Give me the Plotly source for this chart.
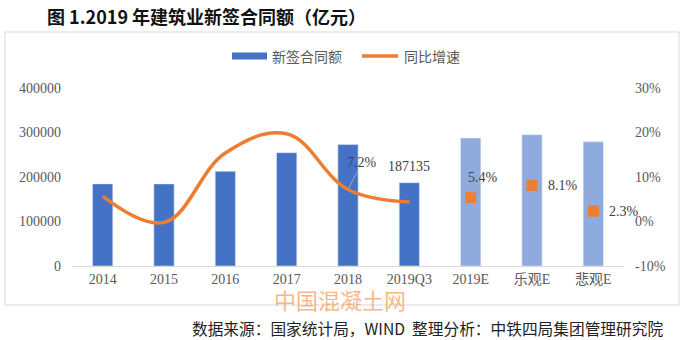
import plotly.graph_objects as go

categories = ["2014", "2015", "2016", "2017", "2018", "2019Q3", "2019E", "乐观E", "悲观E"]
contract_values = [184500, 184400, 212768, 254666, 272854, 187135, 287588, 294955, 279130]
bar_colors = ["#4472C4"] * 6 + ["#8FAADC"] * 3
growth_actual = [0.057, -0.002, 0.154, 0.197, 0.072, 0.044, None, None, None]
growth_forecast = [None, None, None, None, None, None, 0.054, 0.081, 0.023]
left_ticks = [0, 100000, 200000, 300000, 400000]
right_ticks = [-0.1, 0.0, 0.1, 0.2, 0.3]

W, H = 688, 340
ML, MR, MT, MB = 72, 64, 88, 74
PW, PH = W - ML - MR, H - MT - MB


def px(x):
    return (x - ML) / PW


def py(y):
    return 1 - (y - MT) / PH


def ci(name):
    return categories.index(name)


SERIF = "Liberation Serif, Noto Sans CJK SC"
CJK = "Noto Sans CJK SC"
ORANGE = "#ED7D31"
GRAY = "#595959"

fig = go.Figure()
fig.add_trace(go.Bar(x=categories, y=contract_values, marker_color=bar_colors,
                     width=0.33, showlegend=False, hoverinfo="skip"))
fig.add_trace(go.Scatter(x=categories, y=growth_actual, yaxis="y2", mode="lines",
                         line=dict(color=ORANGE, width=3.5, shape="spline", smoothing=1.1),
                         connectgaps=False, showlegend=False))
fig.add_trace(go.Scatter(x=categories, y=growth_forecast, yaxis="y2", mode="markers",
                         marker=dict(color=ORANGE, symbol="square", size=11),
                         showlegend=False))

annotations = []
# data labels
lab_font = dict(family=SERIF, size=14, color="#404040")
annotations.append(dict(x=ci("2018"), y=growth_actual[4], xref="x", yref="y2",
                        text="7.2%", showarrow=True, arrowhead=0, arrowwidth=1,
                        arrowcolor="#A6A6A6", ax=14, ay=-27, font=lab_font))
annotations.append(dict(x=ci("2019Q3"), y=contract_values[5], xref="x", yref="y",
                        text="187135", showarrow=False, yshift=16, font=lab_font))
annotations.append(dict(x=ci("2019E"), y=growth_forecast[6], xref="x", yref="y2",
                        text="5.4%", showarrow=True, arrowhead=0, arrowwidth=1,
                        arrowcolor="#A6A6A6", ax=12, ay=-20, font=lab_font))
annotations.append(dict(x=ci("乐观E"), y=growth_forecast[7], xref="x", yref="y2",
                        text="8.1%", showarrow=False, xshift=31, font=lab_font))
annotations.append(dict(x=ci("悲观E"), y=growth_forecast[8], xref="x", yref="y2",
                        text="2.3%", showarrow=False, xshift=31, font=lab_font))

# legend
annotations.append(dict(x=px(270), y=py(56), xref="paper", yref="paper", xanchor="left",
                        yanchor="middle", text="新签合同额", showarrow=False,
                        font=dict(family=CJK, size=14, color=GRAY)))
annotations.append(dict(x=px(402), y=py(56), xref="paper", yref="paper", xanchor="left",
                        yanchor="middle", text="同比增速", showarrow=False,
                        font=dict(family=CJK, size=14, color=GRAY)))
# title
annotations.append(dict(x=px(45), y=py(16), xref="paper", yref="paper", xanchor="left",
                        yanchor="middle", text="<b>图 1.2019 年建筑业新签合同额（亿元）</b>",
                        showarrow=False, font=dict(family=CJK, size=18, color="#111111")))
# watermark
annotations.append(dict(x=px(340), y=py(299), xref="paper", yref="paper", xanchor="center",
                        yanchor="middle", text="中国混凝土网", showarrow=False,
                        font=dict(family=CJK, size=22, color="rgba(243,160,90,0.75)")))
# footer
annotations.append(dict(x=px(665), y=py(328), xref="paper", yref="paper", xanchor="right",
                        yanchor="middle", text="数据来源：国家统计局，WIND  整理分析：中铁四局集团管理研究院",
                        showarrow=False, font=dict(family=CJK, size=15.7, color="#222222")))

shapes = [
    dict(type="rect", xref="paper", yref="paper", x0=px(5), x1=px(679), y0=py(305), y1=py(32),
         line=dict(color="#D9D9D9", width=1), layer="below"),
    dict(type="rect", xref="paper", yref="paper", x0=px(232), x1=px(267), y0=py(59.5), y1=py(52.5),
         fillcolor="#4472C4", line=dict(width=0)),
    dict(type="line", xref="paper", yref="paper", x0=px(362), x1=px(398), y0=py(56), y1=py(56),
         line=dict(color=ORANGE, width=3.5)),
]

tick_font = dict(family=SERIF, size=14, color=GRAY)
fig.update_layout(
    width=W, height=H, margin=dict(l=ML, r=MR, t=MT, b=MB, autoexpand=False),
    paper_bgcolor="white", plot_bgcolor="white",
    xaxis=dict(type="category", showline=True, linecolor="#D9D9D9", linewidth=1,
               showgrid=False, ticks="", tickfont=tick_font, range=[-0.5, 8.5]),
    yaxis=dict(range=[0, 400000], tickvals=left_ticks, ticktext=[str(v) for v in left_ticks],
               showgrid=False, zeroline=False, showline=False, tickfont=tick_font,
               ticklabelstandoff=10),
    yaxis2=dict(range=[-0.1, 0.3], overlaying="y", side="right", tickvals=right_ticks,
                ticktext=[f"{round(v*100)}%" for v in right_ticks], showgrid=False,
                zeroline=False, showline=False, tickfont=tick_font, ticklabelstandoff=10),
    annotations=annotations, shapes=shapes, showlegend=False,
)

fig.write_html("out.html")
